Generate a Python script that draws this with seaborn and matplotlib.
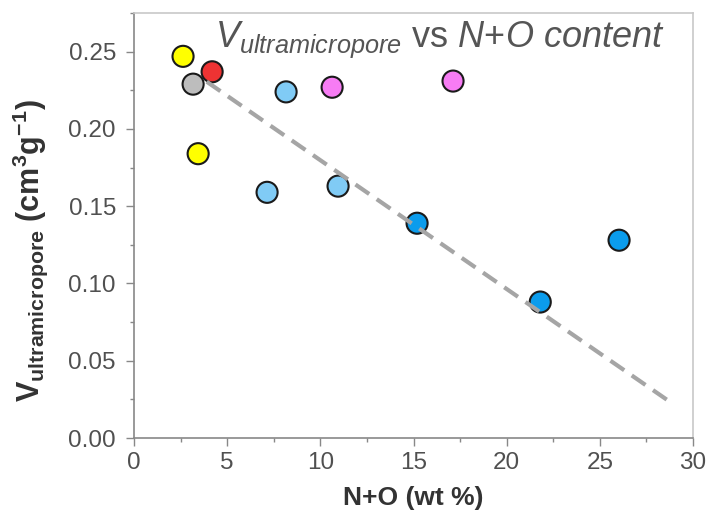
import matplotlib
matplotlib.use("Agg")
import matplotlib.pyplot as plt
import seaborn as sns
import pandas as pd
from matplotlib.ticker import MultipleLocator

# ---- data ----
no_content = [2.63, 3.44, 4.19, 3.17, 8.16, 7.14, 10.95, 10.63, 17.12, 15.19, 21.8, 26.03]
v_ultra = [0.247, 0.184, 0.237, 0.229, 0.224, 0.159, 0.163, 0.227, 0.231, 0.139, 0.088, 0.128]
group = ["yellow", "yellow", "red", "gray", "lightblue", "lightblue", "lightblue",
         "magenta", "magenta", "blue", "blue", "blue"]
fit_x = [3.9, 28.93]
fit_y = [0.2306, 0.022]

palette = {"yellow": "#FFFF00", "red": "#EE3333", "gray": "#BDBDBD",
           "lightblue": "#80CBF5", "magenta": "#F77CF4", "blue": "#0B9CEC"}

df = pd.DataFrame({"x": no_content, "y": v_ultra, "g": group})

sns.set_style("white")
plt.rcParams["font.family"] = ["Liberation Sans", "DejaVu Sans"]
plt.rcParams["mathtext.fontset"] = "custom"
plt.rcParams["mathtext.rm"] = "Liberation Sans"
plt.rcParams["mathtext.it"] = "Liberation Sans:italic"
plt.rcParams["mathtext.bf"] = "Liberation Sans:bold"

fig = plt.figure(figsize=(7.13, 5.23), dpi=100)
ax = fig.add_axes([0.188, 0.1625, 0.784, 0.8125])

sns.scatterplot(data=df, x="x", y="y", hue="g", palette=palette, s=230,
                edgecolor="#1a1a1a", linewidth=1.5, legend=False, ax=ax, zorder=3)
sns.lineplot(x=fit_x, y=fit_y, ax=ax, color="#A5A5A5", linewidth=3, zorder=4)
ax.lines[-1].set_linestyle((0, (4, 2.2)))

ax.set_xlim(0, 30)
ax.set_ylim(0, 0.275)
ax.xaxis.set_major_locator(MultipleLocator(5))
ax.xaxis.set_minor_locator(MultipleLocator(2.5))
ax.yaxis.set_major_locator(MultipleLocator(0.05))
ax.yaxis.set_minor_locator(MultipleLocator(0.025))
ax.yaxis.set_major_formatter(matplotlib.ticker.FormatStrFormatter("%.2f"))

ax.tick_params(axis="both", which="major", direction="out", length=6, width=1,
               color="#888888", labelsize=17.5, labelcolor="#505050",
               bottom=True, left=True)
ax.tick_params(axis="x", which="major", pad=4)
ax.tick_params(axis="y", which="major", pad=7)
ax.tick_params(axis="both", which="minor", direction="out", length=3, width=1,
               color="#888888", bottom=True, left=True)
for side in ["left", "bottom"]:
    ax.spines[side].set_color("#888888")
    ax.spines[side].set_linewidth(1.2)
for side in ["top", "right"]:
    ax.spines[side].set_color("#C8C8C8")
    ax.spines[side].set_linewidth(1.2)

ax.set_xlabel("N+O (wt %)", fontsize=19, fontweight="bold", color="#333333", labelpad=9)
ax.set_ylabel(r"$\mathbf{V}_{\mathbf{ultramicropore}}$ (cm$^{\mathbf{3}}$g$^{\mathbf{-1}}$)",
              fontsize=22, fontweight="bold", color="#333333")
ax.yaxis.set_label_coords(-0.15, 0.44)

ax.text(0.145, 0.985,
        r"$\mathit{V}_{\mathit{ultramicropore}}$ vs $\mathit{N{+}O\ content}$",
        transform=ax.transAxes, fontsize=26, color="#555555",
        ha="left", va="top", zorder=5)

fig.savefig("out.png", dpi=100)
